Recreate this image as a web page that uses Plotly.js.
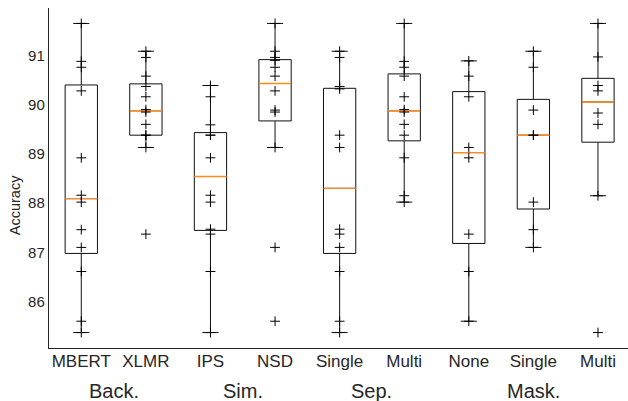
<!DOCTYPE html>
<html>
<head>
<meta charset="utf-8">
<script src="https://cdn.plot.ly/plotly-3.0.1.min.js"></script>
<style>html,body{margin:0;padding:0;background:#fff;}#chart{width:628px;height:401px;}</style>
</head>
<body>
<div id="chart"></div>
<script>
// ---- data ----
const categories = ['MBERT', 'XLMR', 'IPS', 'NSD', 'Single', 'Multi', 'None', 'Single', 'Multi'];
const groupLabels = ['Back.', 'Sim.', 'Sep.', 'Mask.'];
const groupCenters = [1.5, 3.5, 5.5, 8];
const yTicks = [86, 87, 88, 89, 90, 91];

const mbert      = [91.65, 90.88, 90.76, 90.28, 88.92, 88.16, 88.02, 87.46, 87.10, 86.61, 85.60, 85.37];
const xlmr       = [91.085, 90.96, 90.58, 90.37, 90.16, 89.90, 89.85, 89.60, 89.38, 89.38, 89.13, 87.37];
const ips        = [90.39, 90.16, 89.59, 89.38, 89.38, 88.92, 88.16, 88.02, 87.47, 87.37, 86.61, 85.37];
const nsd        = [91.65, 91.085, 90.96, 90.90, 90.76, 90.58, 90.28, 89.89, 89.85, 89.13, 87.10, 85.60];
const sepSingle  = [91.085, 90.96, 90.37, 90.32, 89.38, 89.13, 87.47, 87.37, 87.10, 86.61, 85.60, 85.37];
const sepMulti   = [91.65, 90.88, 90.76, 90.58, 90.16, 89.90, 89.85, 89.60, 89.38, 88.92, 88.15, 88.02];
const maskNone   = [90.89, 90.58, 90.16, 89.13, 88.92, 87.37, 86.61, 85.60];
const maskSingle = [91.085, 90.76, 89.89, 89.38, 89.38, 88.02, 87.46, 87.10];
const maskMulti  = [91.65, 90.97, 90.39, 90.28, 89.83, 89.60, 88.15, 85.37];

const series = [mbert, xlmr, ips, nsd, sepSingle, sepMulti, maskNone, maskSingle, maskMulti];

// ---- statistics (numpy-style linear percentiles, 1.5 IQR whiskers) ----
function pct(sorted, p) {
  const pos = (sorted.length - 1) * p;
  const lo = Math.floor(pos), hi = Math.ceil(pos);
  return sorted[lo] + (sorted[hi] - sorted[lo]) * (pos - lo);
}
const positions = series.map((_, i) => i + 1);
const q1 = [], med = [], q3 = [], lf = [], uf = [];
series.forEach(s => {
  const a = s.slice().sort((x, y) => x - y);
  const Q1 = pct(a, 0.25), M = pct(a, 0.5), Q3 = pct(a, 0.75);
  const iqr = Q3 - Q1;
  q1.push(Q1); med.push(M); q3.push(Q3);
  lf.push(Math.min(...a.filter(v => v >= Q1 - 1.5 * iqr)));
  uf.push(Math.max(...a.filter(v => v <= Q3 + 1.5 * iqr)));
});

const boxW = 0.5;
const medX = [], medY = [];
positions.forEach((p, i) => { medX.push(p - boxW / 2, p + boxW / 2, null); medY.push(med[i], med[i], null); });

const ptX = [], ptY = [];
series.forEach((s, i) => s.forEach(v => { ptX.push(positions[i]); ptY.push(v); }));

const all = series.flat();
const dmin = Math.min(...all), dmax = Math.max(...all);
const pad = (dmax - dmin) * 0.05;

const FONT = 'Liberation Sans, Arial, Helvetica, sans-serif';
const TXT = '#262626';

const traces = [
  {
    type: 'box', x: positions, q1: q1, median: med, q3: q3,
    lowerfence: lf, upperfence: uf, width: boxW, whiskerwidth: 0.5,
    boxpoints: false, fillcolor: 'rgba(0,0,0,0)',
    line: {color: '#111111', width: 1}, hoverinfo: 'skip', showlegend: false
  },
  {
    type: 'scatter', mode: 'lines', x: medX, y: medY,
    line: {color: '#ff8c1a', width: 1.4}, hoverinfo: 'skip', showlegend: false
  },
  {
    type: 'scatter', mode: 'markers', x: ptX, y: ptY,
    marker: {symbol: 'cross-thin', size: 7, line: {color: '#000000', width: 1}, color: '#000000'},
    hoverinfo: 'skip', showlegend: false
  }
];

const layout = {
  width: 628, height: 401,
  margin: {l: 49, r: 0, t: 8, b: 53},
  paper_bgcolor: '#ffffff', plot_bgcolor: '#ffffff',
  font: {family: FONT, color: TXT},
  showlegend: false,
  xaxis: {
    range: [0.5, 9.465], tickvals: positions, ticktext: categories,
    showgrid: false, zeroline: false, showline: true, linecolor: TXT, linewidth: 1.2,
    ticks: '', ticklabelstandoff: -3,
    tickfont: {size: 17, family: FONT, color: TXT}, fixedrange: true
  },
  yaxis: {
    range: [dmin - pad, dmax + pad], tickvals: yTicks, ticktext: yTicks.map(String),
    showgrid: false, zeroline: false, showline: true, linecolor: TXT, linewidth: 1.2,
    ticks: '', tickfont: {size: 15, family: FONT, color: TXT},
    fixedrange: true
  },
  annotations: groupLabels.map((g, i) => ({
    text: g, x: groupCenters[i], xref: 'x', y: -0.126, yref: 'paper',
    xanchor: 'center', yanchor: 'middle', showarrow: false,
    font: {size: 20, family: FONT, color: TXT}
  })).concat([{
    text: 'Accuracy', textangle: -90, x: 15, xref: 'paper', xanchor: 'center',
    y: 0.42, yref: 'paper', yanchor: 'middle', showarrow: false,
    font: {size: 14.5, family: FONT, color: TXT}
  }])
};
// place the y title in pixel terms relative to the plot's left edge
layout.annotations[layout.annotations.length - 1].x = -34 / (628 - 49);

Plotly.newPlot('chart', traces, layout, {staticPlot: true, displayModeBar: false});
</script>
</body>
</html>
